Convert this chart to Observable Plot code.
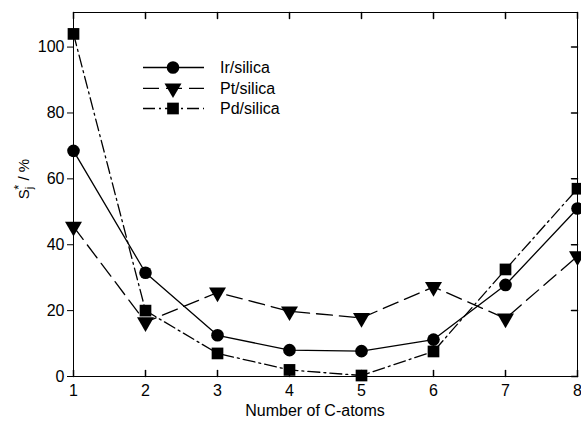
<!DOCTYPE html>
<html><head><meta charset="utf-8">
<script src="https://cdn.jsdelivr.net/npm/d3@7"></script>
<script src="https://cdn.jsdelivr.net/npm/@observablehq/plot@0.6"></script>
<style>body{margin:0;background:#fff}</style>
</head><body><div id="chart"></div>
<script>
const carbons = [1, 2, 3, 4, 5, 6, 7, 8];
const irSilica = [68.5, 31.5, 12.5, 8, 7.7, 11.2, 27.8, 51];
const ptSilica = [45.5, 16.5, 25.5, 19.8, 17.8, 27.2, 17.6, 36.5];
const pdSilica = [104, 20, 7, 2, 0.3, 7.6, 32.5, 57];
const seriesNames = ["Ir/silica", "Pt/silica", "Pd/silica"];
const xTicks = [1, 2, 3, 4, 5, 6, 7, 8];
const yTicks = [0, 20, 40, 60, 80, 100];

const styles = {
  "Ir/silica": {dash: null, symbol: "circle", rotate: 0, r: 6.3},
  "Pt/silica": {dash: "16,7", symbol: "triangle", rotate: 180, r: 6.3},
  "Pd/silica": {dash: "12,4,2,4", symbol: "square", rotate: 0, r: 6.6}
};
const values = [irSilica, ptSilica, pdSilica];
const data = seriesNames.flatMap((s, i) => carbons.map((c, j) => ({series: s, x: c, y: values[i][j]})));

const tickShape = {draw(ctx, l) { ctx.moveTo(0, 0); ctx.lineTo(0, -l); }};
const font = "Liberation Sans, Arial, sans-serif";

const marks = [Plot.frame({stroke: "black", strokeWidth: 1})];
for (const s of seriesNames) {
  const st = styles[s];
  const d = data.filter(e => e.series === s);
  marks.push(Plot.line(d, {x: "x", y: "y", stroke: "black", strokeWidth: 1.3, strokeDasharray: st.dash}));
  marks.push(Plot.dot(d, {x: "x", y: "y", symbol: st.symbol, r: st.r, fill: "black", stroke: "none", rotate: st.rotate}));
}
marks.push(
  Plot.vector(xTicks, {x: d => d, frameAnchor: "bottom", length: 6, anchor: "start", rotate: 0, shape: tickShape, stroke: "black"}),
  Plot.vector(xTicks, {x: d => d, frameAnchor: "top", length: 6, anchor: "start", rotate: 180, shape: tickShape, stroke: "black"}),
  Plot.vector(yTicks, {y: d => d, frameAnchor: "right", length: 6, anchor: "start", rotate: -90, shape: tickShape, stroke: "black"}),
  Plot.axisX(xTicks, {tickSize: 0, tickPadding: 8, label: null, fontSize: 16}),
  Plot.axisY(yTicks, {tickSize: 6, tickPadding: 3, label: null, fontSize: 16})
);

const chart = Plot.plot({
  width: 581, height: 423,
  marginLeft: 73, marginRight: 4, marginTop: 12, marginBottom: 47,
  style: {fontFamily: font, fontSize: "16px", color: "black", background: "white"},
  x: {domain: [1, 8]},
  y: {domain: [0, 110.5]},
  marks
});
document.getElementById("chart").appendChild(chart);

const svg = d3.select(chart);
svg.selectAll("g[aria-label$='tick label']").attr("font-size", 16).style("font-size", "16px");
svg.selectAll("g[aria-label$='tick label'] text").style("font-size", "16px");

svg.append("text").attr("x", 315).attr("y", 416).attr("text-anchor", "middle")
  .attr("font-family", font).style("font-size", "16px").attr("fill", "black").text("Number of C-atoms");

const yl = svg.append("text").attr("transform", "translate(29,179) rotate(-90)")
  .attr("text-anchor", "middle").attr("font-family", font).style("font-size", "15px").attr("fill", "black");
yl.append("tspan").text("S");
yl.append("tspan").attr("dy", 4).style("font-size", "11px").text("j");
yl.append("tspan").attr("dx", -3).attr("dy", -10).style("font-size", "13px").text("*");
yl.append("tspan").attr("dy", 6).text(" / %");

const legY = [67.5, 88.3, 108.5];
const symMap = {circle: d3.symbolCircle, triangle: d3.symbolTriangle, square: d3.symbolSquare};
seriesNames.forEach((s, i) => {
  const st = styles[s];
  const g = svg.append("g");
  g.append("line").attr("x1", 143).attr("x2", 204).attr("y1", legY[i]).attr("y2", legY[i])
    .attr("stroke", "black").attr("stroke-width", 1.3).attr("stroke-dasharray", st.dash);
  g.append("path").attr("d", d3.symbol(symMap[st.symbol], Math.PI * st.r * st.r)())
    .attr("transform", `translate(173,${legY[i]}) rotate(${st.rotate})`).attr("fill", "black");
  g.append("text").attr("x", 220).attr("y", legY[i]).attr("dy", "0.35em").attr("text-anchor", "start")
    .attr("font-family", font).style("font-size", "16px").attr("fill", "black").text(s);
});
</script></body></html>
